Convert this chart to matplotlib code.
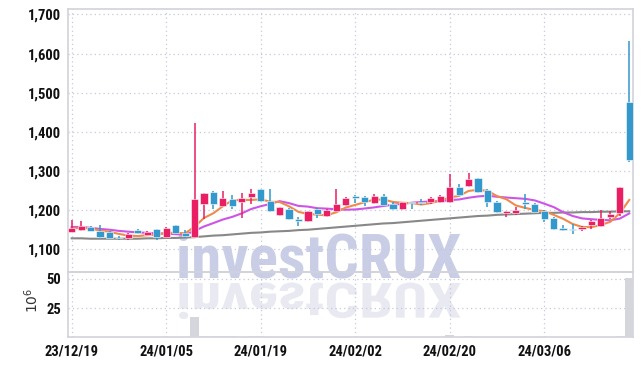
import numpy as np
import matplotlib
matplotlib.use("Agg")
import matplotlib.pyplot as plt
from matplotlib.textpath import TextPath
from matplotlib.patches import PathPatch
from matplotlib.font_manager import FontProperties, fontManager
from matplotlib.transforms import Affine2D, IdentityTransform
from matplotlib.ticker import FuncFormatter

# -----------------------------------------------------------------------------
# data
# -----------------------------------------------------------------------------
dates = [
    "23/12/19", "23/12/20", "23/12/21", "23/12/22", "23/12/26", "23/12/27", "23/12/28",
    "24/01/02", "24/01/03", "24/01/04", "24/01/05", "24/01/08", "24/01/09", "24/01/10",
    "24/01/11", "24/01/12", "24/01/15", "24/01/16", "24/01/17", "24/01/18", "24/01/19",
    "24/01/22", "24/01/23", "24/01/24", "24/01/25", "24/01/26", "24/01/29", "24/01/30",
    "24/01/31", "24/02/01", "24/02/02", "24/02/05", "24/02/06", "24/02/07", "24/02/08",
    "24/02/13", "24/02/14", "24/02/15", "24/02/16", "24/02/19", "24/02/20", "24/02/21",
    "24/02/22", "24/02/23", "24/02/26", "24/02/27", "24/02/28", "24/02/29", "24/03/04",
    "24/03/05", "24/03/06", "24/03/07", "24/03/08", "24/03/11", "24/03/12", "24/03/13",
    "24/03/14", "24/03/15", "24/03/18", "24/03/19",
]

open_ = [1145, 1150, 1158, 1147, 1145, 1130, 1128, 1150, 1137, 1151,
         1132, 1162, 1141, 1132, 1215, 1247, 1211, 1228, 1220, 1234,
         1254, 1224, 1188, 1203, 1177, 1171, 1204, 1184, 1198, 1213,
         1237, 1234, 1218, 1237, 1215, 1203, 1220, 1222, 1221, 1220,
         1220, 1260, 1262, 1281, 1252, 1222, 1192, 1192, 1220, 1215,
         1198, 1181, 1155, 1151, 1151, 1162, 1160, 1183, 1192, 1476]
high = [1175, 1172, 1160, 1162, 1147, 1133, 1141, 1152, 1148, 1153,
        1158, 1163, 1150, 1422, 1244, 1249, 1248, 1238, 1243, 1254,
        1255, 1255, 1209, 1206, 1183, 1199, 1206, 1203, 1255, 1234,
        1239, 1236, 1240, 1241, 1221, 1222, 1221, 1228, 1234, 1238,
        1292, 1266, 1296, 1283, 1254, 1224, 1199, 1207, 1241, 1218,
        1200, 1183, 1162, 1164, 1160, 1175, 1201, 1198, 1260, 1632]
low = [1143, 1148, 1146, 1130, 1127, 1123, 1125, 1139, 1134, 1124,
       1130, 1140, 1130, 1130, 1177, 1204, 1209, 1203, 1181, 1215,
       1220, 1196, 1186, 1175, 1160, 1169, 1180, 1182, 1196, 1211,
       1218, 1211, 1216, 1212, 1201, 1201, 1204, 1213, 1215, 1218,
       1218, 1237, 1260, 1245, 1207, 1192, 1183, 1188, 1204, 1192,
       1170, 1150, 1146, 1139, 1146, 1153, 1158, 1177, 1185, 1324]
close = [1155, 1160, 1148, 1132, 1128, 1128, 1139, 1142, 1143, 1131,
         1154, 1141, 1134, 1228, 1243, 1215, 1230, 1210, 1232, 1243,
         1224, 1198, 1207, 1177, 1172, 1197, 1189, 1200, 1215, 1232,
         1231, 1222, 1235, 1214, 1203, 1220, 1218, 1217, 1232, 1235,
         1260, 1239, 1279, 1247, 1221, 1194, 1198, 1200, 1215, 1196,
         1177, 1152, 1150, 1149, 1158, 1173, 1181, 1190, 1258, 1328]

# volume in millions of shares
volume = [0.4, 0.3, 0.3, 0.4, 0.3, 0.3, 0.3, 0.3, 0.3, 0.3,
          0.4, 0.4, 0.3, 17.0, 1.2, 1.0, 0.8, 0.8, 0.5, 0.7,
          0.9, 0.5, 0.4, 0.4, 0.3, 0.4, 0.3, 0.3, 0.5, 0.4,
          0.3, 0.3, 0.3, 0.3, 0.3, 0.3, 0.3, 0.3, 0.4, 0.4,
          1.8, 0.6, 1.0, 0.5, 0.4, 0.4, 0.3, 0.3, 0.4, 0.3,
          0.3, 0.4, 0.3, 0.3, 0.3, 0.3, 0.4, 0.3, 1.2, 51.0]

# moving averages as drawn on the chart
ma5 = [1153, 1155, 1153, 1148, 1144.6, 1139.2, 1135, 1133.8, 1136, 1136.6,
       1141.8, 1142.2, 1140.6, 1157.6, 1180, 1192.2, 1210, 1225.2, 1226, 1226,
       1227.8, 1221.4, 1220.8, 1209.8, 1195.6, 1190.2, 1188.4, 1187, 1194.6, 1206.6,
       1213.4, 1220, 1227, 1226.8, 1221, 1218.8, 1218, 1214.4, 1218, 1224.4,
       1232.4, 1236.6, 1249, 1252, 1249.2, 1236, 1227.8, 1212, 1205.6, 1200.6,
       1197.2, 1188, 1178, 1164.8, 1157.2, 1156.4, 1162.2, 1170.2, 1192, 1226]
ma10 = [1157, 1157, 1155, 1152, 1150, 1147, 1145, 1143, 1142, 1140.6,
        1140.5, 1138.6, 1137.2, 1146.8, 1158.3, 1167, 1176.1, 1182.9, 1191.8, 1203,
        1210, 1215.7, 1223, 1217.9, 1210.8, 1209, 1204.9, 1203.9, 1202.2, 1201.1,
        1201.8, 1204.2, 1207, 1210.7, 1213.8, 1216.1, 1219, 1220.7, 1222.4, 1222.7,
        1225.6, 1227.3, 1231.7, 1235, 1236.8, 1234.2, 1232.2, 1230.5, 1228.8, 1224.9,
        1216.6, 1207.9, 1195, 1185.2, 1178.9, 1176.8, 1175.1, 1174.1, 1178.4, 1191.6]
ma_long = [1128, 1128, 1127, 1127, 1127, 1127, 1127, 1127, 1128, 1128,
           1129, 1129, 1130, 1131, 1133, 1135, 1136, 1138, 1140, 1142,
           1143, 1145, 1146, 1147, 1149, 1150, 1152, 1154, 1156, 1158,
           1160, 1162, 1164, 1166, 1167, 1169, 1171, 1173, 1175, 1177,
           1179, 1181, 1183, 1185, 1186, 1188, 1189, 1190, 1191, 1192,
           1193, 1193, 1194, 1194, 1195, 1195, 1196, 1196, 1197, 1197]

price_ticks = [1100, 1200, 1300, 1400, 1500, 1600, 1700]
volume_ticks = [25, 50]

# -----------------------------------------------------------------------------
# style
# -----------------------------------------------------------------------------
UP = "#e91e63"
DOWN = "#3399cc"
GRID = "#c5c9dd"
SPINE = "#d2d2dc"
TXT = "#111111"


def pick_bold_font(candidates, default="DejaVu Sans"):
    """first candidate that is installed with a bold face"""
    bold = {f.name for f in fontManager.ttflist
            if isinstance(f.weight, int) and f.weight >= 600}
    for name in candidates:
        if name in bold:
            return name
    return default


CONDENSED = ["Roboto Condensed", "Liberation Sans Narrow", "Arial Narrow",
             "PT Sans Narrow", "Archivo Narrow", "Fira Sans Condensed",
             "IBM Plex Sans Condensed", "Barlow Semi Condensed", "Barlow Condensed",
             "Encode Sans Condensed", "Asap Condensed", "Saira Condensed",
             "Open Sans Condensed", "Roboto"]
TICK_FONT = pick_bold_font(CONDENSED)
WM_FONT = TICK_FONT

plt.rcParams["font.family"] = [TICK_FONT, "DejaVu Sans"]

W, H = 642, 366
fig = plt.figure(figsize=(W / 100, H / 100), dpi=100)
fig.patch.set_facecolor("white")

ax = fig.add_axes([68.3 / W, 1 - 272 / H, (633.3 - 68.3) / W, (272 - 9.3) / H])
axv = fig.add_axes([68.3 / W, 1 - 337.3 / H, (633.3 - 68.3) / W, (337.3 - 272) / H],
                   sharex=ax)
for a in (ax, axv):
    a.patch.set_alpha(0)
    for s in a.spines.values():
        s.set_color(SPINE)
        s.set_linewidth(1.2)
    a.grid(True, color=GRID, linestyle=(0, (1, 2.5)), linewidth=0.9)
    a.set_axisbelow(True)
    a.tick_params(length=0, pad=5)
ax.set_zorder(2)
axv.set_zorder(2)

x = np.arange(len(close))
o = np.array(open_, float)
c = np.array(close, float)
colors = np.where(c >= o, UP, DOWN)

# wicks and bodies
ax.vlines(x, low, high, colors=colors, linewidth=1.1, zorder=3)
body_low = np.minimum(o, c)
body_h = np.maximum(np.abs(c - o), 2.0)
ax.bar(x, body_h, bottom=body_low, width=0.76, color=colors,
       edgecolor="white", linewidth=0.4, zorder=4)

# moving averages
ax.plot(x, ma_long, color="#888888", linewidth=1.5, zorder=2)
ax.plot(x, ma10, color="#cc55e6", linewidth=1.5, zorder=2)
ax.plot(x, ma5, color="#ef8a4c", linewidth=1.5, zorder=2)

ax.set_xlim(-0.36, 59.43)
ax.set_ylim(1042, 1713)
ax.set_yticks(price_ticks)
ax.yaxis.set_major_formatter(FuncFormatter(lambda v, p: f"{int(v):,}"))

# volume
axv.bar(x, volume, width=0.9, color="#d5d5dc", zorder=3)
axv.set_ylim(0, 56)
axv.set_yticks(volume_ticks)
tick_pos = list(range(0, len(dates), 10))
axv.set_xticks(tick_pos)
axv.set_xticklabels([dates[i] for i in tick_pos])
plt.setp(ax.get_xticklabels(), visible=False)
for lab in axv.get_yticklabels() + axv.get_xticklabels() + ax.get_yticklabels():
    lab.set_fontweight("heavy")
    lab.set_fontsize(10.5)
    lab.set_color(TXT)

fig.text(32 / W, 1 - 300 / H, r"$10^6$", rotation=90, ha="center", va="center",
         fontsize=10, color="#333333", family="DejaVu Serif")

# watermark: real text sized to the same width, plus a mirrored copy
wm_fp = FontProperties(family=[WM_FONT, "DejaVu Sans"], weight="bold", size=36)
wm = fig.text(176 / W, 1 - 277 / H, "investCRUX", fontproperties=wm_fp,
              color="#c9cee6", ha="left", va="baseline", zorder=1)
fig.canvas.draw()
bb = wm.get_window_extent()
fs = 36 * (462 - 176) / bb.width
wm.set_fontsize(fs)

tp = TextPath((0, 0), "investCRUX", size=fs * 100 / 72,
              prop=FontProperties(family=[WM_FONT, "DejaVu Sans"], weight="bold"))
refl = PathPatch(tp, facecolor="#e8e9f1", edgecolor="none",
                 transform=Affine2D().scale(1, -0.8).translate(176, H - 283)
                 + IdentityTransform(), zorder=1)
fig.add_artist(refl)

fig.savefig("out.png", dpi=100, facecolor="white")
